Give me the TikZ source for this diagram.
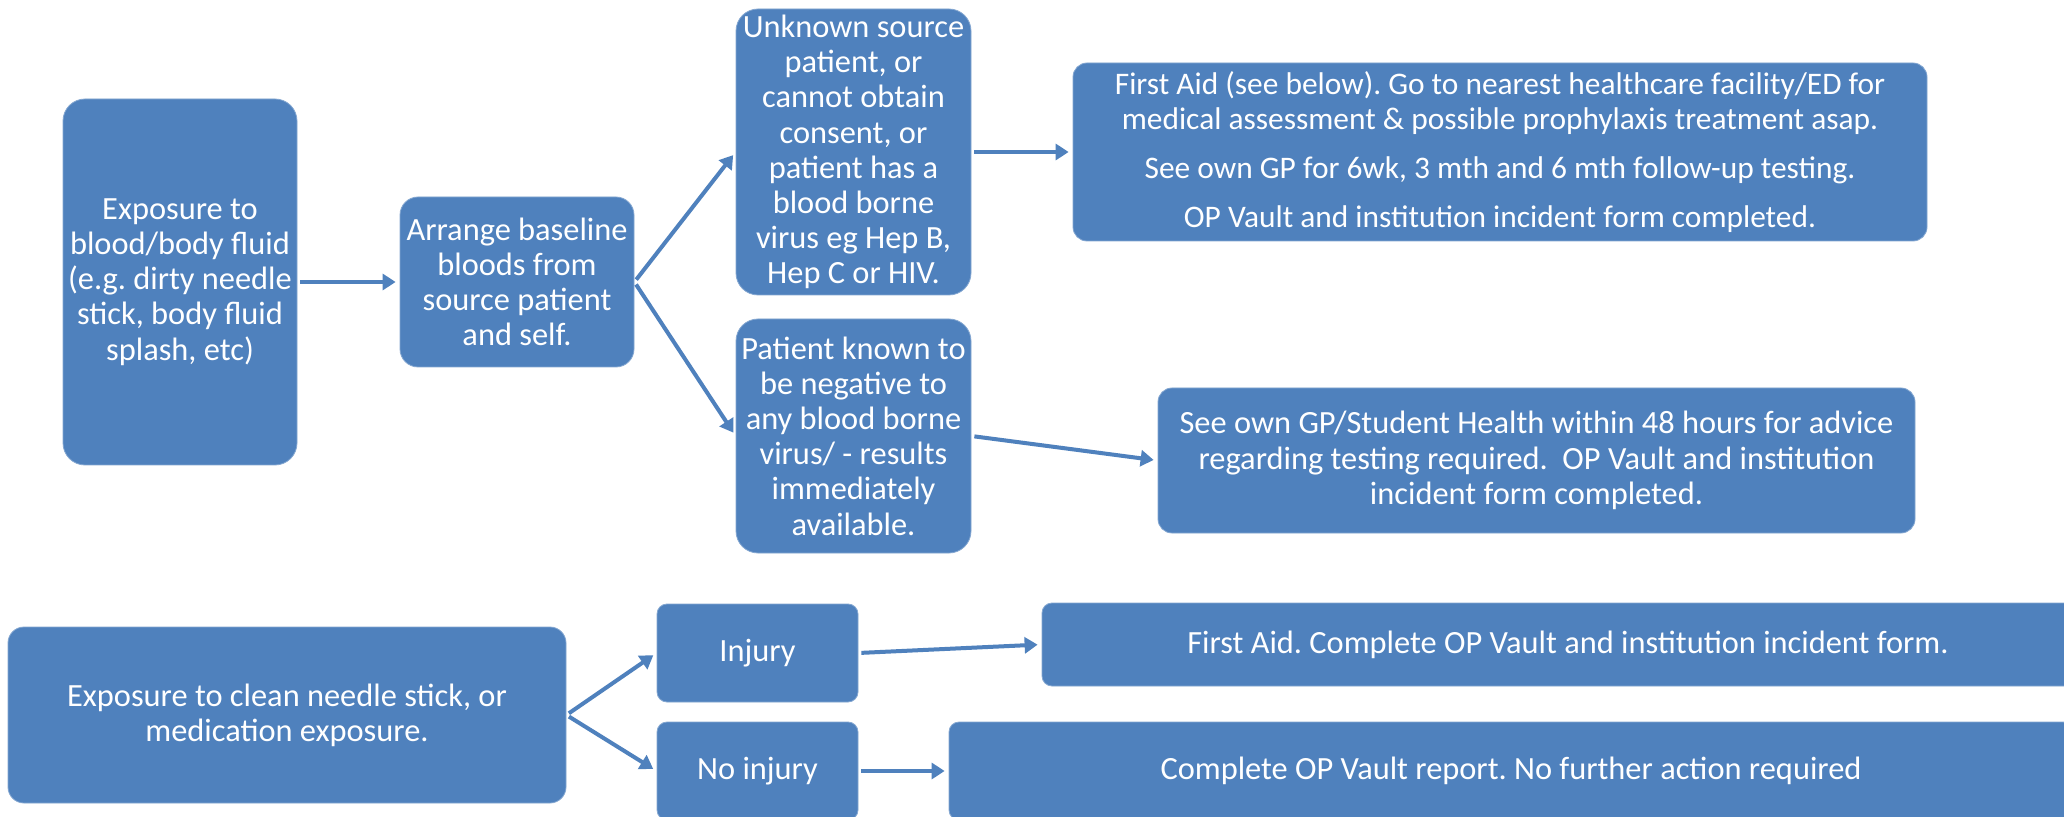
\documentclass[tikz,border=0pt]{standalone}
\usepackage{fontspec}
\setmainfont{Carlito}
\usepackage{xcolor}
\usepackage{tikz}
\usetikzlibrary{arrows.meta}
\definecolor{boxblue}{HTML}{4F81BD}
\frenchspacing
\tikzset{
	flowbox/.style={fill=boxblue, draw=boxblue!70!white, line width=0.4pt, rounded corners=7pt,
		text=white, align=center, inner sep=0pt,
		font=\fontsize{16.2}{17.6}\selectfont},
	flowarrow/.style={draw=boxblue, line width=2pt, shorten <=1.5pt, shorten >=2pt,
		-{Triangle[length=6.5pt,width=8pt]}}
}
\begin{document}
\begin{tikzpicture}[x=0.5pt,y=-0.5pt]
				\clip (0,0) rectangle (2064,817);
				\fill[white] (0,0) rectangle (2064,817);
				
				% upper flow
				\node[flowbox, rounded corners=11pt, minimum width=117pt, minimum height=183pt] (A) at (180,282)
					{Exposure to\\blood/body fluid\\(e.g. dirty needle\\stick, body fluid\\splash, etc)};
				\node[flowbox, rounded corners=9pt, minimum width=117pt, minimum height=85pt] (B) at (517,282)
					{Arrange baseline\\bloods from\\source patient\\and self.};
				\node[flowbox, rounded corners=11pt, minimum width=117.5pt, minimum height=143pt] (C) at (853.5,152)
					{Unknown source\\patient, or\\cannot obtain\\consent, or\\patient has a\\blood borne\\virus eg Hep B,\\Hep C or HIV.};
				\node[flowbox, rounded corners=11pt, minimum width=117.5pt, minimum height=117pt] (D) at (853.5,436)
					{Patient known to\\be negative to\\any blood borne\\virus/ - results\\immediately\\available.};
				\node[flowbox, font=\fontsize{15.7}{17.6}\selectfont, minimum width=427pt, minimum height=89pt] (E) at (1500,152)
					{First Aid (see below). Go to nearest healthcare facility/ED for\\medical assessment \& possible prophylaxis treatment asap.\\[7pt]
					See own GP for 6wk, 3 mth and 6 mth follow-up testing.\\[7pt]
					OP Vault and institution incident form completed.};
				\node[flowbox, minimum width=378.5pt, minimum height=72.5pt] (F) at (1536.5,460.5)
					{See own GP/Student Health within 48 hours for advice\\regarding testing required.\ \ OP Vault and institution\\incident form completed.};
				
				% lower flow
				\node[flowbox, rounded corners=8pt, minimum width=279pt, minimum height=88pt] (G) at (287,715)
					{Exposure to clean needle stick, or\\medication exposure.};
				\node[flowbox, rounded corners=5pt, minimum width=100.5pt, minimum height=49pt] (H) at (757.5,653) {Injury};
				\node[flowbox, rounded corners=5pt, minimum width=100.5pt, minimum height=49pt] (I) at (757.5,771) {No injury};
				\node[flowbox, rounded corners=5pt, minimum width=526pt, minimum height=41.5pt] (J) at (1568,644.5)
					{First Aid. Complete OP Vault and institution incident form.};
				\node[flowbox, rounded corners=5pt, minimum width=562pt, minimum height=49pt] (K) at (1511,771)
					{Complete OP Vault report. No further action required};
				
				\foreach \x/\y in
				{A/B, B/C, B/D, C/E, D/F, G/H, G/I, H/J, I/K}{
					\draw[flowarrow] (\x.east) -- (\y.west);
				}
			\end{tikzpicture}
\end{document}
